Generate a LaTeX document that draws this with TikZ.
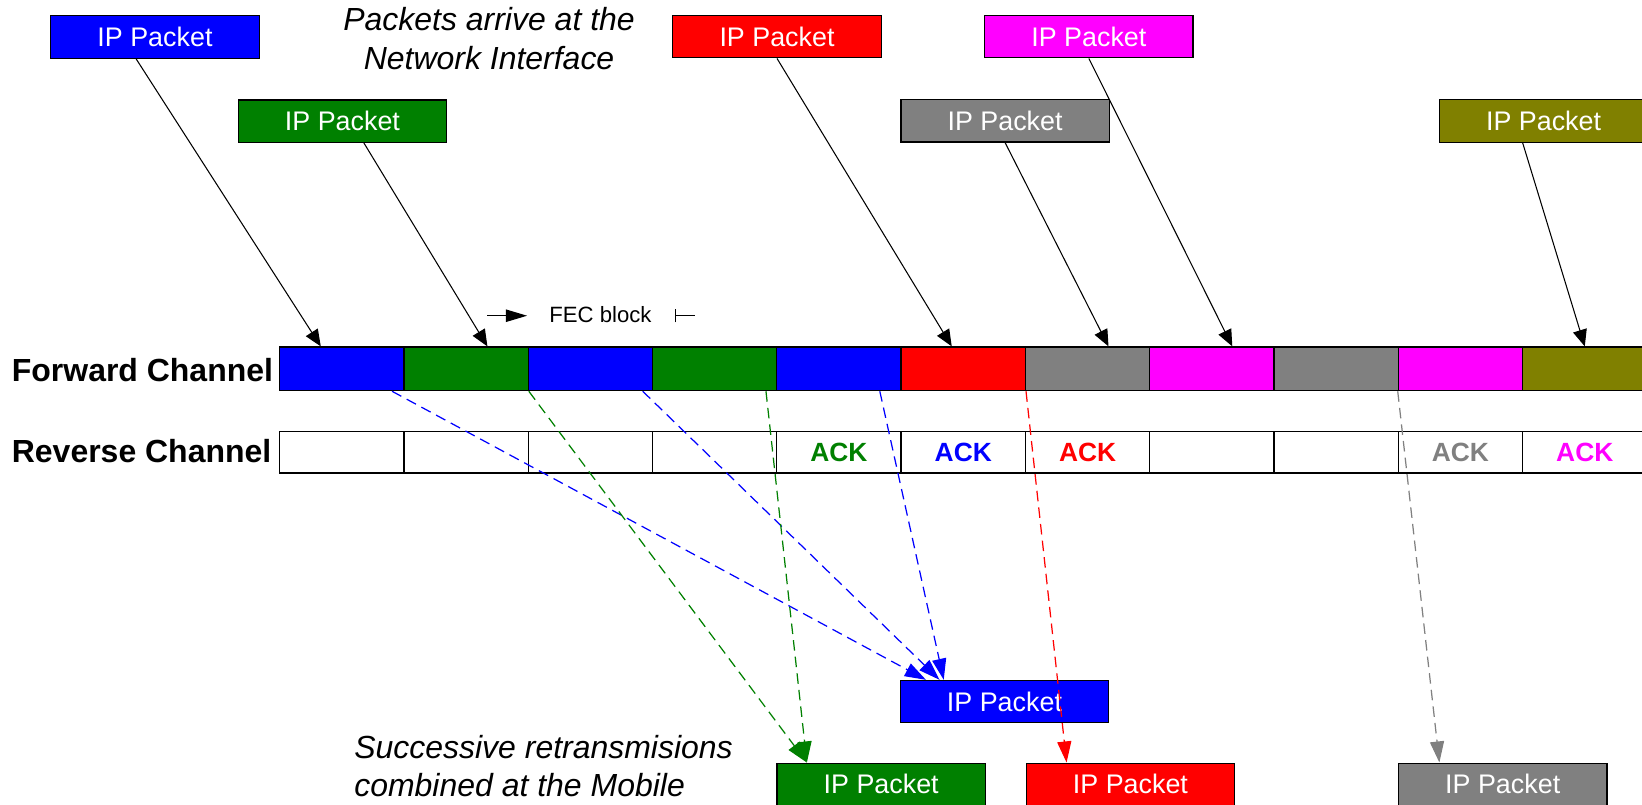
\documentclass[tikz,border=0pt]{standalone}
\usepackage{fontspec}
\setmainfont{Liberation Sans}
\usepackage{tikz}
\usetikzlibrary{arrows.meta,calc}

\definecolor{ipblue}{RGB}{0,0,255}
\definecolor{ipgreen}{RGB}{0,128,0}
\definecolor{ipred}{RGB}{255,0,0}
\definecolor{ipgray}{RGB}{128,128,128}
\definecolor{ipmagenta}{RGB}{255,0,255}
\definecolor{ipolive}{RGB}{128,128,0}

\tikzset{
  packet/.style={draw=black, line width=0.7pt, text=white, inner sep=0pt,
    minimum width=4.168cm, minimum height=0.848cm, font=\fontsize{15.3}{18}\selectfont},
  fwdcell/.style={draw=black, line width=0.7pt, inner sep=0pt,
    minimum width=2.486cm, minimum height=0.873cm},
  revcell/.style={draw=black, line width=0.7pt, fill=white, inner sep=0pt,
    minimum width=2.486cm, minimum height=0.827cm, font=\fontsize{15}{18}\selectfont\bfseries},
  chanlabel/.style={anchor=base west, inner sep=0pt, font=\fontsize{18.2}{22}\selectfont\bfseries},
  note/.style={inner sep=0pt, font=\fontsize{18.2}{22}\selectfont\itshape},
  arrive/.style={draw=black, line width=0.6pt, -{Triangle[length=9.5pt,width=8pt]}},
  retx/.style={line width=0.7pt, dash pattern=on 6pt off 3.5pt, -{Triangle[length=12pt,width=8pt]}}
}

\begin{document}
\begin{tikzpicture}[x=0.020944cm, y=-0.020944cm]

\useasboundingbox (0,0) rectangle (1568,768);
\clip (0,0) rectangle (1568,768);

\node[packet, fill=ipblue] (pktBlue) at (148,35.4) {IP Packet};
\node[packet, fill=ipgreen] (pktGreen) at (327,115.7) {IP Packet};
\node[packet, fill=ipred] (pktRed) at (742,35) {IP Packet};
\node[packet, fill=ipgray] (pktGray) at (959.8,115.4) {IP Packet};
\node[packet, fill=ipmagenta] (pktMagenta) at (1039.8,35) {IP Packet};
\node[packet, fill=ipolive] (pktOlive) at (1474,115.5) {IP Packet};

\node[note, align=center, anchor=north] (arrive) at (467,7) {Packets arrive at the\\Network Interface};


\node[chanlabel] (fwdLabel) at (11,364) {Forward Channel};
\node[fwdcell, fill=ipblue] (fc1) at (326.35,352.2) {};
\node[fwdcell, fill=ipgreen] (fc2) at (445.05,352.2) {};
\node[fwdcell, fill=ipblue] (fc3) at (563.75,352.2) {};
\node[fwdcell, fill=ipgreen] (fc4) at (682.45,352.2) {};
\node[fwdcell, fill=ipblue] (fc5) at (801.15,352.2) {};
\node[fwdcell, fill=ipred] (fc6) at (919.85,352.2) {};
\node[fwdcell, fill=ipgray] (fc7) at (1038.55,352.2) {};
\node[fwdcell, fill=ipmagenta] (fc8) at (1157.25,352.2) {};
\node[fwdcell, fill=ipgray] (fc9) at (1275.95,352.2) {};
\node[fwdcell, fill=ipmagenta] (fc10) at (1394.65,352.2) {};
\node[fwdcell, fill=ipolive] (fc11) at (1513.35,352.2) {};

\node[chanlabel] (revLabel) at (11,441.5) {Reverse Channel};
\node[revcell] (rc1) at (326.35,432) {};
\node[revcell] (rc2) at (445.05,432) {};
\node[revcell] (rc3) at (563.75,432) {};
\node[revcell] (rc4) at (682.45,432) {};
\node[revcell, text=ipgreen] (rc5) at (801.15,432) {ACK};
\node[revcell, text=ipblue] (rc6) at (919.85,432) {ACK};
\node[revcell, text=ipred] (rc7) at (1038.55,432) {ACK};
\node[revcell] (rc8) at (1157.25,432) {};
\node[revcell] (rc9) at (1275.95,432) {};
\node[revcell, text=ipgray] (rc10) at (1394.65,432) {ACK};
\node[revcell, text=ipmagenta] (rc11) at (1513.35,432) {ACK};


\node[inner sep=0pt, font=\fontsize{12.6}{15}\selectfont] (fec) at (573.4,300.5) {FEC block};
\draw[line width=0.7pt, -{Triangle[length=12pt,width=7pt]}] ($(fec.west)+(-58.8,1)$) -- ($(fec.west)+(-21,1)$);
\draw[line width=0.7pt, {Bar[width=7.5pt]}-] ($(fec.east)+(21.7,1)$) -- ($(fec.east)+(41.4,1)$);


\node[packet, fill=ipblue] (rxBlue) at (959.2,670) {IP Packet};
\node[packet, fill=ipgreen] (rxGreen) at (841.5,749) {IP Packet};
\node[packet, fill=ipred] (rxRed) at (1079.5,749) {IP Packet};
\node[packet, fill=ipgray] (rxGray) at (1435,749) {IP Packet};

\node[note, align=left, anchor=north west] (combine) at (338,701.5) {Successive retransmisions\\combined at the Mobile};


\draw[arrive] ($(pktBlue.south)+(-18,0)$) -- ($(fc1.north)+(-20,0)$);
\draw[arrive] ($(pktGreen.south)+(20.5,0)$) -- ($(fc2.north)+(20.4,0)$);
\draw[arrive] (pktRed.south) -- ($(fc6.north)+(-11,0)$);
\draw[arrive] (pktGray.south) -- ($(fc7.north)+(20,0)$);
\draw[arrive] (pktMagenta.south) -- ($(fc8.north)+(19.5,0)$);
\draw[arrive] ($(pktOlive.south)+(-20,0)$) -- (fc11.north);


\draw[retx, ipblue] ($(fc1.south)+(48,0)$) -- ($(rxBlue.north)+(-75,0)$);
\draw[retx, ipblue] ($(fc3.south)+(50,0)$) -- ($(rxBlue.north)+(-62,0)$);
\draw[retx, ipblue] ($(fc5.south)+(39,0)$) -- ($(rxBlue.north)+(-58,0)$);
\draw[retx, ipgreen] (fc2.south east) -- ($(rxGreen.north)+(-71,0)$);
\draw[retx, ipgreen] ($(fc4.south)+(49,0)$) -- ($(rxGreen.north)+(-71,0)$);
\draw[retx, ipred] (fc6.south east) -- ($(rxRed.north)+(-61,0)$);
\draw[retx, ipgray] (fc10.south west) -- ($(rxGray.north)+(-60.5,0)$);

\end{tikzpicture}
\end{document}
